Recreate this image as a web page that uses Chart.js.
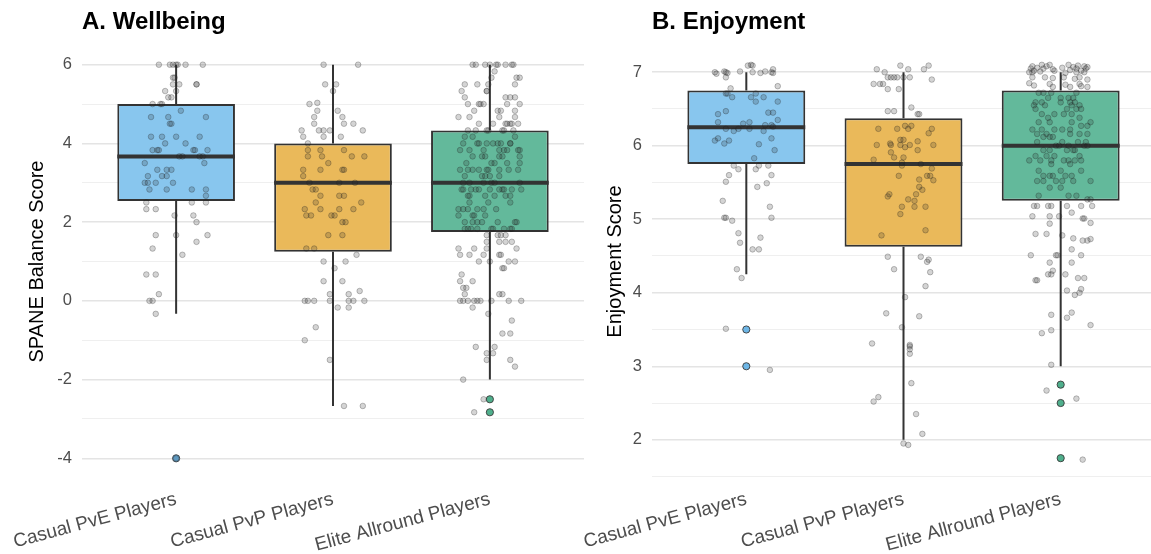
<!DOCTYPE html>
<html>
<head>
<meta charset="utf-8">
<script src="https://cdn.jsdelivr.net/npm/chart.js@4.4.1/dist/chart.umd.min.js"></script>
<style>
    html, body { margin: 0; padding: 0; background: #fff; overflow: hidden; }
    #wrap { position: relative; width: 1151px; height: 554px; }
    canvas { position: absolute; top: 0; }
    #wellbeing { left: 0; }
    #enjoyment { left: 575px; }
</style>
</head>
<body>
<div id="wrap">
    <canvas id="wellbeing" width="590" height="554"></canvas>
    <canvas id="enjoyment" width="585" height="554"></canvas>
</div>
<script>
const groups = ['Casual PvE Players', 'Casual PvP Players', 'Elite Allround Players'];
const boxFill = ['#88C6EE', '#EAB95A', '#63B99B'];
const outlierFill = ['#6DB6E6', '#E6A830', '#4FAF8C'];

// A. Wellbeing: box stats per group
const wbQ1 = [2.54, 1.25, 1.75];
const wbMedian = [3.67, 3, 3];
const wbQ3 = [5, 4, 4.33];
const wbLow = [-0.33, -2.67, -2];
const wbHigh = [6, 6, 6];
const wbOutliers = [[1, -4], [3, -2.5], [3, -2.83]];
const wbTickLabels = [-4, -2, 0, 2, 4, 6];
const wbGrid = [-4, -3, -2, -1, 0, 1, 2, 3, 4, 5, 6];

// jittered raw points: [x offset within group, value]
const wbPve = [[-0.11,6],[-0.04,6],[-0.02,6],[0,6],[0.01,6],[0.06,6],[0.17,6],[-0.02,5.67],[-0.01,5.67],
    [-0.02,5.5],[0.02,5.5],[0.13,5.5],[0.13,5.5],[-0.07,5.33],[0,5.33],[-0.05,5.17],[-0.03,5.17],
    [-0.15,5],[-0.1,5],[-0.09,5],[0.03,4.83],[-0.16,4.67],[-0.05,4.67],[0.19,4.67],[-0.04,4.5],[-0.03,4.5],
    [-0.16,4.17],[-0.09,4.17],[0,4.17],[0.15,4.17],[-0.07,4],[0.06,4],
    [-0.15,3.83],[-0.12,3.83],[-0.11,3.83],[0.11,3.83],[0.12,3.83],[0.2,3.83],
    [0.02,3.67],[0.04,3.67],[0.15,3.67],[0.17,3.67],[-0.2,3.5],[0.18,3.5],
    [-0.12,3.33],[-0.06,3.33],[-0.03,3.33],[-0.18,3.17],[-0.09,3.17],[-0.06,3.17],
    [-0.2,3],[-0.18,3],[-0.13,3],[-0.02,3],[-0.17,2.83],[-0.06,2.83],[0.1,2.83],[0.19,2.83],
    [0.19,2.67],[-0.19,2.5],[0.1,2.5],[0.19,2.5],[-0.19,2.33],[-0.13,2.33],[-0.01,2.17],[0.11,2.17],
    [0.13,2],[-0.13,1.67],[0,1.67],[0.2,1.67],[0.13,1.5],[-0.15,1.33],[0.04,1.17],
    [-0.19,0.67],[-0.13,0.67],[-0.11,0.17],[-0.17,0],[-0.15,0],[-0.13,-0.33],[0,-4]];
const wbPvp = [[-0.06,6],[0.16,6],[-0.05,5.5],[0.02,5.5],[0,5.33],[-0.15,5],[-0.1,5.03],
    [-0.1,4.83],[0.03,4.83],[-0.12,4.67],[0.06,4.67],[-0.12,4.5],[0.07,4.5],[0.13,4.5],
    [-0.2,4.33],[-0.09,4.33],[-0.06,4.33],[-0.02,4.33],[0.19,4.33],[-0.19,4.17],[-0.06,4.17],[0.05,4.17],
    [-0.16,4],[-0.16,3.83],[-0.08,3.83],[0.07,3.83],[-0.16,3.67],[-0.07,3.67],[0.12,3.67],[0.2,3.67],
    [-0.03,3.5],[-0.19,3.33],[-0.08,3.33],[0.06,3.33],[0.07,3.33],[-0.19,3.17],
    [-0.15,3],[0.04,3],[0.14,3],[-0.13,2.83],[-0.11,2.83],[-0.08,2.67],[0.04,2.67],[0.07,2.67],
    [-0.11,2.5],[0.18,2.5],[-0.18,2.33],[-0.08,2.33],[0.04,2.33],[0.13,2.33],
    [-0.17,2.17],[-0.14,2.17],[-0.01,2.17],[0.01,2.17],[0.06,2],[0.08,2],[-0.03,1.67],[0.06,1.67],
    [-0.17,1.33],[-0.12,1.33],[0.15,1.17],[-0.06,1],[0.08,1],[0.01,0.83],[-0.06,0.5],[0.06,0.5],
    [0.17,0.25],[-0.02,0.17],[0.1,0.17],[-0.18,0],[-0.16,0],[-0.12,0],[-0.02,0],[0.1,0],[0.13,0],[0.2,0],
    [0.03,-0.17],[0.1,-0.17],[-0.11,-0.67],[-0.18,-1],[-0.02,-1.5],[0.07,-2.67],[0.19,-2.67]];
const wbElite = [[-0.11,6],[-0.09,6],[-0.03,6],[0,6],[0.04,6],[0.05,6],[0.1,6],[0.14,6],[0.15,6],
    [0.03,5.83],[0.01,5.67],[0.17,5.67],[0.19,5.67],[-0.16,5.5],[-0.08,5.5],[-0.01,5.5],[0.16,5.5],
    [-0.18,5.33],[-0.02,5.33],[-0.02,5.33],[-0.16,5.17],[0.1,5.17],[0.13,5.17],[0.16,5.17],
    [-0.14,5],[-0.07,5],[-0.06,5],[-0.04,5],[0.11,5],[0.19,5],[-0.1,4.83],[0.05,4.83],[0.07,4.83],[0.16,4.83],
    [-0.2,4.67],[-0.13,4.67],[0.06,4.67],[0.16,4.67],
    [-0.07,4.5],[0.02,4.5],[0.1,4.5],[0.11,4.5],[0.13,4.5],[0.14,4.5],[0.18,4.5],
    [-0.14,4.33],[-0.09,4.33],[-0.02,4.33],[-0.01,4.33],[0.08,4.33],[0.09,4.33],[0.15,4.33],
    [-0.16,4.17],[-0.11,4.17],[0.16,4.17],
    [-0.17,4],[-0.08,4],[-0.07,4],[-0.02,4],[0.02,4],[0.05,4],[0.07,4],[0.13,4],[0.13,4],
    [-0.19,3.83],[-0.13,3.83],[-0.04,3.83],[0.06,3.83],[0.09,3.83],[0.11,3.83],[0.18,3.83],[0.19,3.83],
    [-0.11,3.67],[-0.05,3.67],[-0.03,3.67],[0.06,3.67],[0.08,3.67],[0.19,3.67],
    [-0.15,3.5],[0.01,3.5],[0.03,3.5],[0.11,3.5],[0.19,3.5],
    [-0.19,3.33],[-0.14,3.33],[-0.11,3.33],[-0.07,3.33],[-0.02,3.33],[-0.01,3.33],[0.06,3.33],[0.12,3.33],[0.18,3.33],
    [-0.16,3.17],[-0.05,3.17],[-0.03,3.17],[0,3.17],[0.06,3.17],
    [-0.17,3],[-0.13,3],[-0.04,3],[0.01,3],[0.03,3],[0.19,3],
    [-0.18,2.83],[-0.17,2.83],[-0.12,2.83],[-0.09,2.83],[-0.07,2.83],[0,2.83],[0.06,2.83],[0.08,2.83],[0.09,2.83],[0.14,2.83],[0.2,2.83],
    [-0.14,2.67],[-0.13,2.67],[-0.03,2.67],[0.03,2.67],[0.1,2.67],[0.13,2.67],
    [-0.13,2.5],[-0.01,2.5],[0.13,2.5],
    [-0.2,2.33],[-0.17,2.33],[-0.14,2.33],[-0.08,2.33],[-0.04,2.33],[0.04,2.33],
    [-0.2,2.17],[-0.11,2.17],[-0.1,2.17],[-0.03,2.17],
    [-0.16,2],[-0.11,2],[-0.08,2],[-0.05,2],[0.05,2],[0.16,2],[0.17,2],
    [-0.16,1.83],[-0.14,1.83],[-0.12,1.83],[-0.08,1.83],[0.01,1.83],[0.02,1.83],[0.09,1.83],[0.13,1.83],[0.14,1.83],
    [-0.02,1.67],[0.05,1.67],[0.07,1.67],[0.1,1.67],[-0.02,1.5],[0.06,1.5],[0.1,1.5],[0.14,1.5],
    [-0.2,1.33],[-0.1,1.33],[-0.02,1.33],[0.17,1.33],[-0.19,1.17],[-0.13,1.17],[-0.04,1.17],[0.06,1.17],[0.07,1.17],
    [-0.07,1],[0,1],[0.12,1],[0.16,1],[0.08,0.83],[0.09,0.83],[-0.18,0.67],[-0.19,0.5],[-0.11,0.5],
    [-0.17,0.33],[-0.15,0.33],[-0.16,0.17],[0.06,0.17],[0.08,0.17],
    [-0.19,0],[-0.17,0],[-0.14,0],[-0.1,0],[-0.08,0],[-0.06,0],[0.01,0],[0.12,0],[0.2,0],
    [-0.11,-0.17],[-0.01,-0.33],[0.14,-0.5],[0.08,-0.83],[0.13,-0.83],[-0.09,-1.17],[0.03,-1.17],
    [-0.02,-1.33],[0.02,-1.33],[-0.02,-1.5],[0.13,-1.5],[0.16,-1.67],[-0.17,-2],[-0.04,-2.5],[-0.1,-2.83]];

// B. Enjoyment: box stats per group
const enjQ1 = [5.75, 4.625, 5.25];
const enjMedian = [6.25, 5.75, 6];
const enjQ3 = [6.75, 6.375, 6.75];
const enjLow = [4.25, 2, 3];
const enjHigh = [7, 7, 7];
const enjOutliers = [[1, 3.5], [1, 3], [3, 2.75], [3, 2.5], [3, 1.75]];
const enjTickLabels = [2, 3, 4, 5, 6, 7];
const enjGrid = [1.5, 2, 2.5, 3, 3.5, 4, 4.5, 5, 5.5, 6, 6.5, 7];

const enjPve = [[-0.2,7],[-0.19,6.98],[-0.14,7.01],[-0.13,7],[-0.12,6.99],[-0.04,7.01],[0.04,7],[0.09,6.99],
    [0.12,7.01],[0.16,7],[0.17,6.99],[0.01,7.09],[0.03,7.1],[0.04,7.09],[0.17,7.04],[-0.13,6.93],[0.2,6.81],
    [-0.1,6.78],[-0.13,6.71],[-0.12,6.71],[0.06,6.71],[-0.09,6.66],[0.03,6.66],[0.11,6.66],[0.06,6.6],[0.2,6.6],
    [-0.13,6.47],[0.14,6.45],[0.17,6.45],[-0.18,6.43],[0.2,6.35],[-0.18,6.32],[0.02,6.32],[-0.02,6.3],
    [0.12,6.28],[0.16,6.28],[0.17,6.26],[-0.13,6.23],[-0.05,6.23],[0.02,6.23],[-0.08,6.2],[0.11,6.2],
    [-0.18,6.1],[0.16,6.1],[-0.2,6.07],[-0.11,6.07],[-0.14,6.03],[0.08,6.02],[0.18,5.94],[0.05,5.83],
    [-0.08,5.73],[0.08,5.73],[0.14,5.73],[-0.05,5.68],[0.06,5.68],[-0.11,5.6],[0.16,5.6],[-0.13,5.51],
    [0.13,5.49],[0.07,5.44],[-0.15,5.25],[0.15,5.17],[-0.14,5.02],[-0.13,5.02],[0.16,5.02],[-0.09,4.98],
    [-0.05,4.81],[0.09,4.75],[-0.04,4.68],[0.04,4.59],[0.08,4.59],[-0.06,4.32],[-0.03,4.2],[-0.13,3.51],[0.15,2.95]];
const enjPvp = [[-0.02,7.09],[0.16,7.09],[-0.17,7.04],[0.03,7.04],[0.13,7.04],[-0.12,7],
    [-0.1,6.93],[-0.08,6.93],[-0.06,6.93],[-0.04,6.93],[0,6.93],[0.04,6.93],[0.18,6.9],
    [-0.19,6.84],[-0.15,6.84],[-0.13,6.84],[-0.1,6.77],[-0.03,6.77],[0.05,6.52],[-0.1,6.47],[-0.06,6.47],
    [0.09,6.43],[0.1,6.43],[0.01,6.27],[0.05,6.27],[-0.16,6.23],[-0.04,6.23],[0.03,6.23],[0.18,6.23],
    [0.16,6.17],[-0.02,6.08],[0,6.08],[0.09,6.06],[-0.085,6.03],
    [-0.17,6.01],[-0.08,6.01],[-0.02,6.01],[0.04,6.01],[0.19,6.01],[0.01,5.98],[0.09,5.94],[-0.08,5.91],
    [-0.06,5.84],[0,5.84],[-0.19,5.81],[-0.01,5.77],[0.11,5.75],[-0.01,5.73],[0.18,5.69],
    [-0.03,5.59],[0.15,5.59],[0.17,5.59],[0.1,5.54],[0.19,5.53],[0.1,5.44],[0.12,5.4],
    [-0.09,5.34],[0.08,5.34],[-0.1,5.31],[0.03,5.27],[0.07,5.25],[-0.01,5.17],[0.07,5.17],[0.14,5.17],
    [-0.02,5.07],[0.14,4.85],[-0.14,4.78],[-0.1,4.49],[0.11,4.49],[0.16,4.45],[0.15,4.42],[-0.06,4.32],
    [0.17,4.28],[0.14,4.09],[0.01,3.94],[-0.11,3.72],[0.1,3.68],[-0.01,3.53],[-0.2,3.31],
    [0.04,3.29],[0.04,3.27],[0.04,3.23],[0.04,3.17],[0.05,2.77],[-0.16,2.58],[-0.19,2.52],
    [0.08,2.35],[0.12,2.08],[0,1.95],[0.03,1.93]];
const enjElite = [[-0.19,7.05],[-0.18,7.08],[-0.17,7.02],[-0.15,7.06],[-0.12,7.1],[-0.11,7.05],[-0.09,7.08],
    [-0.07,7.1],[-0.05,7.04],[-0.04,7.02],[0.01,7.06],[0.05,7.1],[0.06,7.03],[0.08,7.07],[0.1,7.05],[0.11,7.09],
    [0.13,7.02],[0.15,7.08],[0.16,7.05],[0.17,7.07],[-0.2,7],[-0.18,7],[-0.13,7.01],[0.03,6.99],[0.1,7],[0.15,7],
    [-0.18,6.93],[-0.1,6.93],[-0.05,6.92],[0.02,6.93],[0.09,6.91],[0.12,6.93],[0.17,6.9],
    [-0.2,6.85],[-0.17,6.82],[-0.07,6.84],[-0.05,6.8],[0.03,6.83],[0.06,6.8],[0.12,6.84],[0.13,6.81],[0.17,6.8],
    [-0.14,6.72],[-0.11,6.72],[-0.06,6.72],[0.1,6.72],[-0.08,6.65],[0,6.65],[0.05,6.65],[0.08,6.65],
    [-0.16,6.59],[-0.12,6.59],[0,6.59],[0.06,6.59],[0.09,6.59],[-0.17,6.55],[-0.1,6.55],[0.07,6.55],[0.12,6.55],
    [-0.16,6.5],[0.04,6.5],[0.1,6.5],[0.13,6.5],[-0.12,6.43],[-0.04,6.43],[0.02,6.43],[0.07,6.43],
    [-0.08,6.38],[0.12,6.38],[-0.14,6.32],[-0.07,6.32],[0.07,6.32],[0.19,6.32],[0.13,6.27],[0.17,6.27],
    [-0.18,6.22],[-0.12,6.22],[-0.04,6.22],[0.01,6.22],[0.06,6.22],
    [-0.15,6.16],[-0.09,6.16],[0.06,6.16],[0.12,6.16],[0.17,6.16],[-0.11,6.12],[-0.07,6.12],[-0.05,6.12],
    [-0.15,6.05],[0.01,6.05],[0.11,6.05],[0.16,6.05],[-0.03,6],[-0.01,6],[0.05,6],[0.15,6],[0.17,6],
    [-0.11,5.94],[-0.07,5.94],[0.04,5.94],[0.08,5.94],[0.09,5.94],[-0.16,5.86],[-0.09,5.86],[-0.04,5.86],[0.12,5.86],
    [-0.2,5.8],[-0.13,5.8],[-0.06,5.8],[0.02,5.8],[0.05,5.8],[0.09,5.8],[0.13,5.8],[-0.06,5.75],[0.06,5.75],
    [-0.14,5.66],[0,5.66],[0.13,5.66],[-0.11,5.59],[-0.07,5.59],[-0.05,5.59],[0.03,5.59],[0.07,5.59],
    [-0.15,5.52],[-0.11,5.52],[-0.03,5.52],[0.01,5.52],[0.08,5.52],[0.19,5.52],[-0.07,5.43],[0,5.43],
    [-0.14,5.32],[0.05,5.32],[0.1,5.32],[0.17,5.27],[0.19,5.27],
    [-0.17,5.18],[-0.15,5.18],[-0.08,5.18],[-0.06,5.18],[0.04,5.18],[0.13,5.18],[0.2,5.18],[0.07,5.09],
    [-0.18,5.04],[-0.07,5.04],[-0.01,5.04],[0.14,5.01],[0.15,5.01],[0.19,4.95],[-0.07,4.94],
    [-0.16,4.8],[-0.09,4.8],[0.01,4.78],[0.08,4.74],[0.14,4.71],[0.17,4.71],[0.19,4.73],[0.07,4.59],
    [-0.19,4.51],[-0.03,4.51],[-0.02,4.51],[0.13,4.51],[-0.07,4.41],[0.07,4.41],[-0.05,4.3],
    [-0.08,4.25],[-0.06,4.25],[0.03,4.25],[0.11,4.2],[0.15,4.2],[-0.16,4.17],[-0.15,4.17],
    [0.04,4.03],[0.13,4.05],[0.12,4],[0.09,3.97],[-0.06,3.7],[0.07,3.73],[0.04,3.66],[0.19,3.56],
    [-0.06,3.49],[-0.12,3.45],[-0.06,3.02],[-0.09,2.67],[0.1,2.56],[0.14,1.73]];

Chart.defaults.font.family = '"Liberation Sans", Arial, sans-serif';
Chart.defaults.animation = false;

const BOX_HALF = 0.375;

const panelTitle = {
    id: 'panelTitle',
    afterDraw(chart, args, opts) {
        const ctx = chart.ctx;
        ctx.save();
        ctx.font = 'bold 24px "Liberation Sans", Arial, sans-serif';
        ctx.fillStyle = '#000';
        ctx.textBaseline = 'alphabetic';
        ctx.fillText(opts.text, chart.chartArea.left, 29);
        ctx.restore();
    }
};

function jitterData(lists) {
    const pts = [];
    lists.forEach((list, i) => list.forEach(p => pts.push({ x: i + 1 + p[0], y: p[1] })));
    return pts;
}

function whiskerData(low, q1, q3, high) {
    const pts = [];
    groups.forEach((g, i) => {
        pts.push({ x: i + 1, y: low[i] }, { x: i + 1, y: q1[i] }, { x: i + 1, y: null });
        pts.push({ x: i + 1, y: q3[i] }, { x: i + 1, y: high[i] }, { x: i + 1, y: null });
    });
    return pts;
}

function medianData(med) {
    const pts = [];
    med.forEach((m, i) => {
        pts.push({ x: i + 1 - BOX_HALF, y: m }, { x: i + 1 + BOX_HALF, y: m }, { x: i + 1, y: null });
    });
    return pts;
}

function makePanel(id, p) {
    const ctx = document.getElementById(id).getContext('2d');
    return new Chart(ctx, {
        type: 'scatter',
        data: {
            datasets: [
                {
                    type: 'bar',
                    data: groups.map((g, i) => ({ x: i + 1, y: [p.q1[i], p.q3[i]] })),
                    backgroundColor: boxFill,
                    borderColor: '#333333',
                    borderWidth: 2,
                    borderSkipped: false,
                    barPercentage: 0.75,
                    categoryPercentage: 1,
                    order: 5
                },
                {
                    type: 'line',
                    data: whiskerData(p.low, p.q1, p.q3, p.high),
                    borderColor: '#333333',
                    borderWidth: 2,
                    pointRadius: 0,
                    spanGaps: false,
                    order: 6
                },
                {
                    type: 'line',
                    data: medianData(p.median),
                    borderColor: '#333333',
                    borderWidth: 4,
                    borderCapStyle: 'butt',
                    pointRadius: 0,
                    spanGaps: false,
                    order: 4
                },
                {
                    data: p.outliers.map(o => ({ x: o[0], y: o[1] })),
                    backgroundColor: p.outliers.map(o => outlierFill[o[0] - 1]),
                    borderColor: '#3a3a3a',
                    borderWidth: 0.9,
                    pointRadius: 3.6,
                    order: 3
                },
                {
                    data: jitterData(p.points),
                    backgroundColor: 'rgba(40,40,40,0.2)',
                    borderColor: 'rgba(30,30,30,0.3)',
                    borderWidth: 0.9,
                    pointRadius: 2.8,
                    order: 2
                }
            ]
        },
        options: {
            responsive: false,
            layout: { padding: p.padding },
            plugins: {
                legend: { display: false },
                tooltip: { enabled: false },
                panelTitle: { text: p.title }
            },
            scales: {
                x: {
                    type: 'linear',
                    min: 0.4,
                    max: 3.6,
                    offset: false,
                    grid: { display: false },
                    border: { display: false },
                    afterBuildTicks: scale => { scale.ticks = groups.map((g, i) => ({ value: i + 1 })); },
                    afterFit: scale => { scale.height = 76; scale.paddingLeft = 0; scale.paddingRight = 0; },
                    ticks: {
                        callback: v => groups[v - 1],
                        minRotation: 15,
                        maxRotation: 15,
                        autoSkip: false,
                        padding: 2,
                        color: '#4d4d4d',
                        font: { size: 19 }
                    }
                },
                y: {
                    type: 'linear',
                    min: p.yMin,
                    max: p.yMax,
                    afterBuildTicks: scale => { scale.ticks = p.grid.map(v => ({ value: v })); },
                    afterFit: scale => { scale.width = p.axisWidth; scale.paddingTop = 0; scale.paddingBottom = 0; },
                    border: { display: false },
                    grid: {
                        drawTicks: false,
                        color: c => p.tickLabels.includes(c.tick.value) ? '#e4e4e4' : '#efefef',
                        lineWidth: c => p.tickLabels.includes(c.tick.value) ? 1.5 : 1
                    },
                    ticks: {
                        callback: v => p.tickLabels.includes(v) ? String(v) : '',
                        padding: 10,
                        color: '#4d4d4d',
                        font: { size: 16.5 }
                    },
                    title: {
                        display: true,
                        text: p.yTitle,
                        color: '#000',
                        padding: 0,
                        font: { size: 20 }
                    }
                }
            }
        },
        plugins: [panelTitle]
    });
}

makePanel('wellbeing', {
    title: 'A. Wellbeing',
    yTitle: 'SPANE Balance Score',
    q1: wbQ1, median: wbMedian, q3: wbQ3, low: wbLow, high: wbHigh,
    outliers: wbOutliers,
    points: [wbPve, wbPvp, wbElite],
    tickLabels: wbTickLabels, grid: wbGrid,
    yMin: -4.5, yMax: 6.5,
    axisWidth: 57,
    padding: { left: 25, top: 45, right: 6, bottom: 0 }
});

makePanel('enjoyment', {
    title: 'B. Enjoyment',
    yTitle: 'Enjoyment Score',
    q1: enjQ1, median: enjMedian, q3: enjQ3, low: enjLow, high: enjHigh,
    outliers: enjOutliers,
    points: [enjPve, enjPvp, enjElite],
    tickLabels: enjTickLabels, grid: enjGrid,
    yMin: 1.48, yMax: 7.37,
    axisWidth: 49,
    padding: { left: 28, top: 45, right: 5, bottom: 0 }
});
</script>
</body>
</html>
